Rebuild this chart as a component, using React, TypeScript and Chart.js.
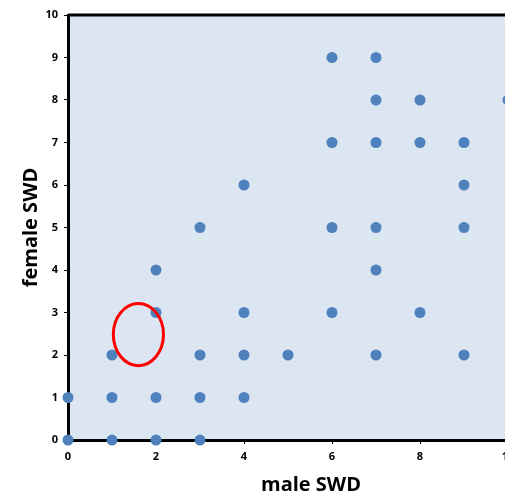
import React, { useEffect, useRef } from "react";
import { Chart, registerables } from "chart.js";

Chart.register(...registerables);

const maleSWD = [6, 7, 7, 8, 10, 6, 7, 8, 9, 4, 9, 3, 6, 7, 9, 2, 7, 2, 4, 6, 8, 1, 3, 4, 5, 7, 9, 0, 1, 2, 3, 4, 0, 1, 2, 3];
const femaleSWD = [9, 9, 8, 8, 8, 7, 7, 7, 7, 6, 6, 5, 5, 5, 5, 4, 4, 3, 3, 3, 3, 2, 2, 2, 2, 2, 2, 1, 1, 1, 1, 1, 0, 0, 0, 0];
const xTitle = "male SWD";
const yTitle = "female SWD";
const highlightCenter = [1.6, 2.48];
const highlightRadii = [0.57, 0.73];

const FONT = "'Open Sans', 'Liberation Sans', sans-serif";

export default function App() {
  const ref = useRef<HTMLCanvasElement | null>(null);
  useEffect(() => {
    if (!ref.current) return;
    const bgPlugin = {
      id: "bg",
      beforeDraw(chart: any) {
        const { ctx, chartArea: a } = chart;
        ctx.save();
        ctx.fillStyle = "#dce6f2";
        ctx.fillRect(a.left, a.top, a.right - a.left, a.bottom - a.top);
        ctx.restore();
      },
      afterDatasetsDraw(chart: any) {
        const { ctx, chartArea: a, scales } = chart;
        ctx.save();
        ctx.strokeStyle = "#000";
        ctx.lineWidth = 3;
        ctx.beginPath();
        ctx.moveTo(a.left, a.top);
        ctx.lineTo(a.right, a.top);
        ctx.lineTo(a.right, a.bottom);
        ctx.stroke();
        // highlight ellipse
        const cx = scales.x.getPixelForValue(highlightCenter[0]);
        const cy = scales.y.getPixelForValue(highlightCenter[1]);
        const rx = Math.abs(scales.x.getPixelForValue(highlightCenter[0] + highlightRadii[0]) - cx);
        const ry = Math.abs(scales.y.getPixelForValue(highlightCenter[1] + highlightRadii[1]) - cy);
        ctx.strokeStyle = "#ff0000";
        ctx.lineWidth = 3;
        ctx.beginPath();
        ctx.ellipse(cx, cy, rx, ry, 0, 0, Math.PI * 2);
        ctx.stroke();
        // x title
        ctx.fillStyle = "#000";
        ctx.font = `bold 20px ${FONT}`;
        ctx.textAlign = "center";
        ctx.textBaseline = "middle";
        ctx.fillText(xTitle, a.left + 243, a.bottom + 45);
        ctx.restore();
      },
    };
    const chart = new Chart(ref.current, {
      type: "scatter",
      data: {
        datasets: [
          {
            data: maleSWD.map((x, i) => ({ x, y: femaleSWD[i] })),
            backgroundColor: "#4f81bd",
            borderColor: "#4f81bd",
            pointRadius: 5.5,
            borderWidth: 0,
            clip: false as any,
          },
        ],
      },
      options: {
        animation: false,
        responsive: true,
        maintainAspectRatio: false,
        layout: { padding: { top: 15, right: 52, left: 0, bottom: 0 } },
        plugins: { legend: { display: false }, tooltip: { enabled: false } },
        scales: {
          x: {
            min: 0,
            max: 10,
            afterFit(s: any) {
              s.height = 55;
            },
            ticks: { stepSize: 2, color: "#000", font: { family: FONT, size: 11, weight: "bold" }, padding: 6 },
            grid: { drawOnChartArea: false, drawTicks: true, tickLength: 4, color: "#000" },
            border: { color: "#000", width: 3 },
          },
          y: {
            min: 0,
            max: 10,
            afterFit(s: any) {
              s.width = 68;
            },
            ticks: { stepSize: 1, color: "#000", font: { family: FONT, size: 11, weight: "bold" }, padding: 6 },
            grid: { drawOnChartArea: false, drawTicks: true, tickLength: 4, color: "#000" },
            border: { color: "#000", width: 3 },
            title: {
              display: true,
              text: yTitle,
              color: "#000",
              font: { family: FONT, size: 20, weight: "bold" },
              padding: { top: 19, bottom: 0 },
            },
          },
        },
      },
      plugins: [bgPlugin],
    });
    return () => chart.destroy();
  }, []);
  return (
    <div style={{ position: "fixed", left: 0, top: 0, width: 505, height: 495, overflow: "hidden", background: "#fff" }}>
      <div style={{ position: "relative", width: 560, height: 495 }}>
        <canvas ref={ref} />
      </div>
    </div>
  );
}
